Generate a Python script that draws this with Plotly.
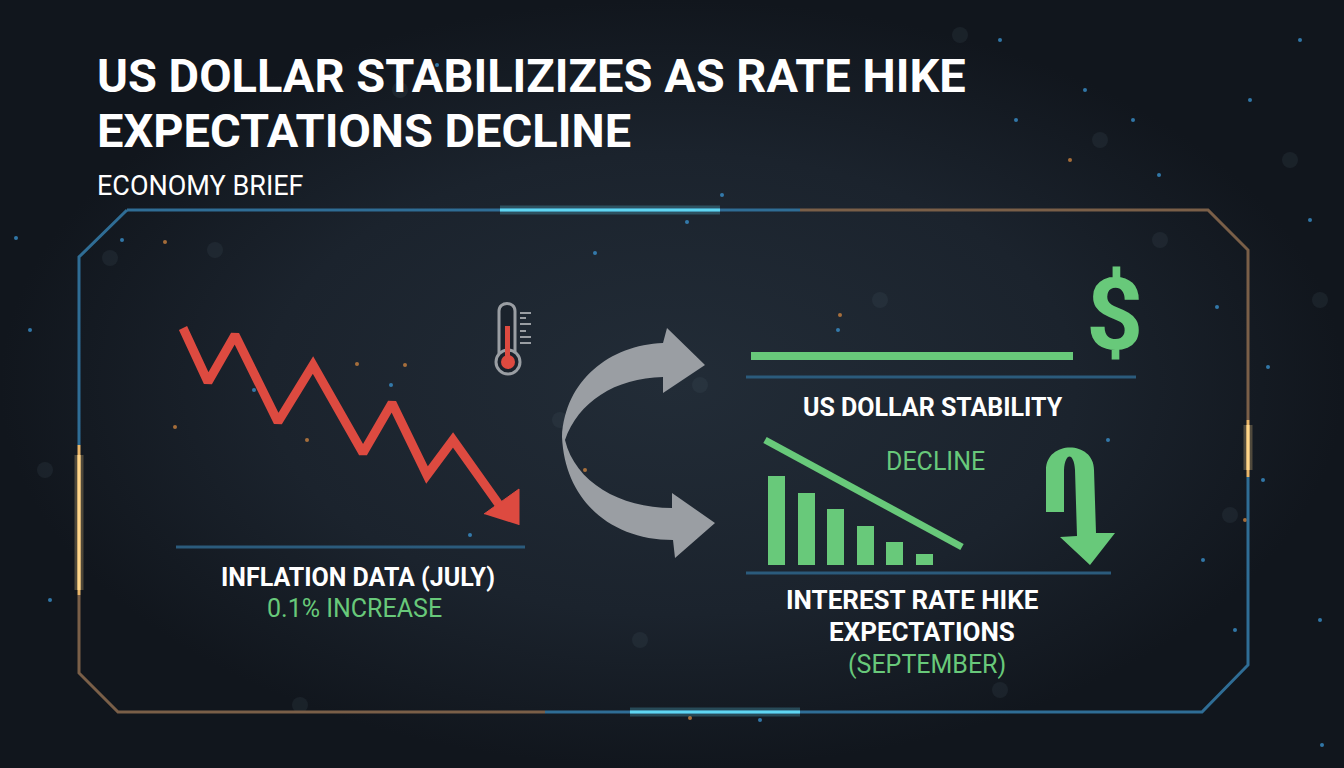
import plotly.graph_objects as go

# 데이터 =====
title_lines = ['US DOLLAR STABILIZIZES AS RATE HIKE', 'EXPECTATIONS DECLINE']
subtitle = 'ECONOMY BRIEF'

# 인플레이션 지그재그 (픽셀 좌표계 값)
infl_x = [183, 208, 235, 278, 313, 363, 392, 427, 453, 500]
infl_y = [328, 382, 335, 422, 365, 453, 403, 475, 440, 506]
infl_head_x = [484, 519, 519]
infl_head_y = [514, 489, 525]

# 금리인상 기대 막대
bar_x = [776.5, 806.5, 835.5, 865.5, 894.5, 924.5]
bar_h = [89, 72, 56, 39, 23, 11]
bar_base = 565
decline_x = [765, 962]
decline_y = [440, 547]

# 달러 안정 라인
dollar_x = [751, 1073]
dollar_y = [356, 356]

# 배경 입자 (x, y, 색)
dots_x = [437, 16, 122, 203, 254, 391, 595, 687, 722, 838, 1016, 1133, 1159, 1217, 1310,
          1268, 1263, 1235, 1320, 50, 30, 1108, 1203, 1322, 760, 1250, 1085, 1300, 1000,
          470, 165, 175, 307, 357, 405, 840, 1070, 1245, 690, 585]
dots_y = [65, 238, 240, 372, 390, 385, 253, 222, 195, 330, 120, 120, 175, 307, 220,
          367, 480, 630, 620, 600, 330, 440, 560, 745, 720, 100, 90, 40, 40,
          535, 242, 427, 440, 364, 365, 315, 160, 520, 718, 470]
dots_c = ['#3a8fc9'] * 30 + ['#c9813f'] * 10

# 보케 (큰 흐린 원)
bokeh_x = [110, 215, 560, 700, 1000, 1160, 1230, 1290, 1100, 300, 640, 880, 45, 1320, 400, 960]
bokeh_y = [258, 250, 420, 385, 690, 240, 515, 160, 140, 705, 640, 300, 470, 300, 90, 35]

# 테두리 구간 (x, y, 색)
frame = [
    ([127, 800], [210, 210], '#2f6d95'),
    ([800, 1208, 1248, 1248], [210, 210, 250, 420], '#7a5f48'),
    ([1248, 1248], [420, 477], '#e8b56a'),
    ([1248, 1248, 1202, 545], [477, 665, 712, 712], '#2f6d95'),
    ([545, 118, 79, 79], [712, 712, 673, 595], '#7a5f48'),
    ([79, 79], [595, 445], '#e8b56a'),
    ([79, 79, 127], [445, 257, 210], '#2f6d95'),
]
glows = [
    ([500, 720], [210, 210], '#5fd6f2'),
    ([630, 800], [712, 712], '#5fd6f2'),
    ([79, 79], [590, 455], '#ffd68a'),
    ([1248, 1248], [425, 470], '#ffd68a'),
]

# 밑줄
underlines = [
    ([176, 525], [547, 547]),
    ([746, 1136], [377, 377]),
    ([746, 1111], [573, 573]),
]

RED = '#dd4a40'
GREEN = '#68c97a'
GRAY = '#9a9ea3'
BG = '#1a222c'
FONT = 'Roboto, Arial, sans-serif'

fig = go.Figure()

# 배경 비네팅 (아래 축 x/y)
fig.add_trace(go.Scatter(x=[0, 1344, 1344, 0, 0], y=[0, 0, 768, 768, 0], mode='lines',
                         fill='toself', line=dict(width=0),
                         fillgradient=dict(type='radial',
                                           colorscale=[[0, '#222c37'], [0.6, '#1b232d'], [1, '#11161d']]),
                         hoverinfo='skip'))

# 이하 모든 요소는 위에 겹친 축 x2/y2
def add(tr):
    tr.update(xaxis='x2', yaxis='y2', hoverinfo='skip')
    fig.add_trace(tr)

# 보케 + 입자
add(go.Scatter(x=bokeh_x, y=bokeh_y, mode='markers',
               marker=dict(size=16, color='#4a5a66', opacity=0.18, line=dict(width=0))))
add(go.Scatter(x=dots_x, y=dots_y, mode='markers',
               marker=dict(size=4, color=dots_c, opacity=0.8, line=dict(width=0))))

# 테두리 + 발광
for gx, gy, c in glows:
    add(go.Scatter(x=gx, y=gy, mode='lines', line=dict(color=c, width=9), opacity=0.25))
for fx, fy, c in frame:
    add(go.Scatter(x=fx, y=fy, mode='lines', line=dict(color=c, width=3)))
for gx, gy, c in glows:
    add(go.Scatter(x=gx, y=gy, mode='lines', line=dict(color=c, width=3)))

for ux, uy in underlines:
    add(go.Scatter(x=ux, y=uy, mode='lines', line=dict(color='#2b5b7c', width=3)))

# 인플레이션 화살표
add(go.Scatter(x=infl_x, y=infl_y, mode='lines', line=dict(color=RED, width=9)))
add(go.Scatter(x=infl_head_x, y=infl_head_y, mode='lines', fill='toself',
               fillcolor=RED, line=dict(color=RED, width=1)))

# 막대
add(go.Bar(x=bar_x, y=[-h for h in bar_h], base=bar_base, width=17,
           marker=dict(color=GREEN, line=dict(width=0))))
add(go.Scatter(x=decline_x, y=decline_y, mode='lines', line=dict(color=GREEN, width=7)))
add(go.Scatter(x=dollar_x, y=dollar_y, mode='lines', line=dict(color=GREEN, width=8)))

# 도형: 회색 곡선 화살표, 초록 갈고리 화살표, 온도계
shapes = [
    dict(type='path', fillcolor=GRAY, line=dict(width=0),
         path='M663,343 C610,345 565,380 562,437 C565,500 610,540 673,540 L675,558 L715,523 '
              'L672,493 L672,508 C620,508 575,482 565,440 C578,402 615,378 663,377 '
              'L663,393 L705,365 L667,328 Z'),
    dict(type='path', fillcolor=GREEN, line=dict(width=0),
         path='M1046,512 L1046,470 C1046,440 1094,440 1094,470 L1096,533 L1115,533 '
              'L1090,565 L1060,537 L1077,536 L1075,470 C1074,452 1065,452 1064,470 L1064,512 Z'),
    dict(type='path', fillcolor=BG, line=dict(color=GRAY, width=3),
         path='M499,360 L499,311 C499,301 515,301 515,311 L515,360 Z'),
    dict(type='circle', x0=496, x1=520, y0=350, y1=374,
         line=dict(color=GRAY, width=3), fillcolor=BG),
    dict(type='rect', x0=505, x1=510, y0=326, y1=362,
         line=dict(width=0), fillcolor=RED),
    dict(type='circle', x0=501, x1=515, y0=355, y1=369,
         line=dict(width=0), fillcolor=RED),
]
for ty, tl in zip([313, 318, 324, 331, 337, 343], [11, 6, 11, 6, 11, 11]):
    shapes.append(dict(type='line', x0=520, x1=520 + tl, y0=ty, y1=ty,
                       line=dict(color=GRAY, width=2)))
for s in shapes:
    s.update(xref='x2', yref='y2')

# 텍스트
def txt(x, y, s, size, color='white', anchor='center', bold=True):
    return dict(x=x, y=y, xref='x2', yref='y2', text='<b>%s</b>' % s if bold else s,
                showarrow=False, xanchor=anchor, yanchor='middle',
                font=dict(family=FONT, size=size, color=color))

annotations = [
    txt(95, 75, title_lines[0], 47, anchor='left'),
    txt(95, 130, title_lines[1], 47, anchor='left'),
    txt(95, 186, subtitle, 27, anchor='left', bold=False),
    txt(358, 577, 'INFLATION DATA (JULY)', 25),
    txt(354, 608, '0.1% INCREASE', 25, color=GREEN, bold=False),
    txt(933, 407, 'US DOLLAR STABILITY', 25),
    txt(935, 461, 'DECLINE', 25, color=GREEN, bold=False),
    txt(912, 600, 'INTEREST RATE HIKE', 26),
    txt(922, 632, 'EXPECTATIONS', 26),
    txt(927, 664, '(SEPTEMBER)', 25, color=GREEN, bold=False),
    txt(1114, 314, '$', 100, color=GREEN),
]

fig.update_layout(width=1344, height=768, margin=dict(l=0, r=0, t=0, b=0),
                  paper_bgcolor=BG, plot_bgcolor=BG, showlegend=False,
                  shapes=shapes, annotations=annotations,
                  xaxis=dict(range=[0, 1344], visible=False, fixedrange=True),
                  yaxis=dict(range=[768, 0], visible=False, fixedrange=True),
                  xaxis2=dict(range=[0, 1344], visible=False, fixedrange=True, overlaying='x'),
                  yaxis2=dict(range=[768, 0], visible=False, fixedrange=True, overlaying='y'))
fig.write_html('out.html', config={'displayModeBar': False},
               post_script="document.body.style.margin='0';document.body.style.overflow='hidden';"
                           "document.body.style.background='#1a222c';")
